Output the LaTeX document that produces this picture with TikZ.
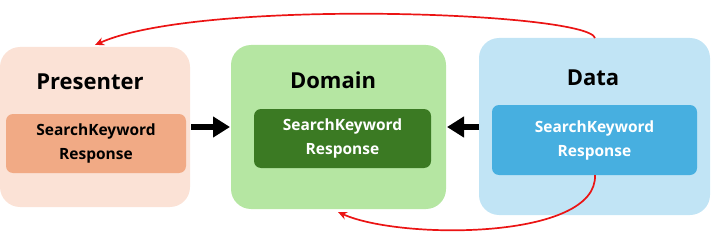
\documentclass[tikz,border=0pt]{standalone}
\usepackage{fontspec}
\setmainfont{Open Sans}
\usetikzlibrary{arrows.meta}
\definecolor{presOut}{RGB}{251,226,214}
\definecolor{presIn}{RGB}{241,170,133}
\definecolor{domOut}{RGB}{181,230,162}
\definecolor{domIn}{RGB}{59,122,35}
\definecolor{dataOut}{RGB}{193,228,245}
\definecolor{dataIn}{RGB}{71,175,224}
\definecolor{redline}{RGB}{235,20,20}
\tikzset{
  outerbox/.style={rectangle, rounded corners=20pt, inner sep=0pt},
  innerbox/.style={rectangle, rounded corners=7pt, inner sep=0pt, align=center,
    font=\bfseries\fontsize{15.5}{24}\selectfont},
  titletext/.style={font=\bfseries\fontsize{22}{26}\selectfont, inner sep=0pt},
  bigarrow/.style={line width=6pt, -{Triangle[length=17pt,width=20pt]}},
  redarrow/.style={draw=redline, line width=1.7pt, -{Stealth[length=9pt,width=8pt]}}
}
\begin{document}
\begin{tikzpicture}[x=1pt,y=-1pt]
\useasboundingbox (0,0) rectangle (715,238);
% outer boxes
\node[outerbox, fill=presOut, minimum width=190pt, minimum height=160pt] (pout) at (95,127) {};
\node[outerbox, fill=domOut, minimum width=215pt, minimum height=164pt] (dout) at (338.5,127) {};
\node[outerbox, fill=dataOut, minimum width=231pt, minimum height=177pt] (aout) at (594.5,126.5) {};
% titles
\node[titletext] (ptitle) at (90,82) {Presenter};
\node[titletext] (dtitle) at (333,80) {Domain};
\node[titletext] (atitle) at (593,78) {Data};
% inner boxes
\node[innerbox, fill=presIn, text=black, minimum width=180pt, minimum height=59pt] (pin) at (96,143.5) {SearchKeyword\\Response};
\node[innerbox, fill=domIn, text=white, minimum width=177pt, minimum height=59pt] (din) at (342.5,138.5) {SearchKeyword\\Response};
\node[innerbox, fill=dataIn, text=white, minimum width=205pt, minimum height=70pt] (ain) at (594.5,140) {SearchKeyword\\Response};
% black arrows
\coordinate (a1s) at (191,127);
\coordinate (a1e) at (230,127);
\coordinate (a2s) at (479,127);
\coordinate (a2e) at (447,127);
\draw[bigarrow] (a1s) -- (a1e);
\draw[bigarrow] (a2s) -- (a2e);
% red arrows
\coordinate (r1s) at (595,38);
\coordinate (r1e) at (95,45);
\coordinate (r2s) at (595,175);
\coordinate (r2e) at (338,212);
\draw[redarrow] (r1s) .. controls (588,12) and (200,-2) .. (r1e);
\draw[redarrow] (r2s) .. controls (598,240) and (400,240) .. (r2e);
\end{tikzpicture}
\end{document}
